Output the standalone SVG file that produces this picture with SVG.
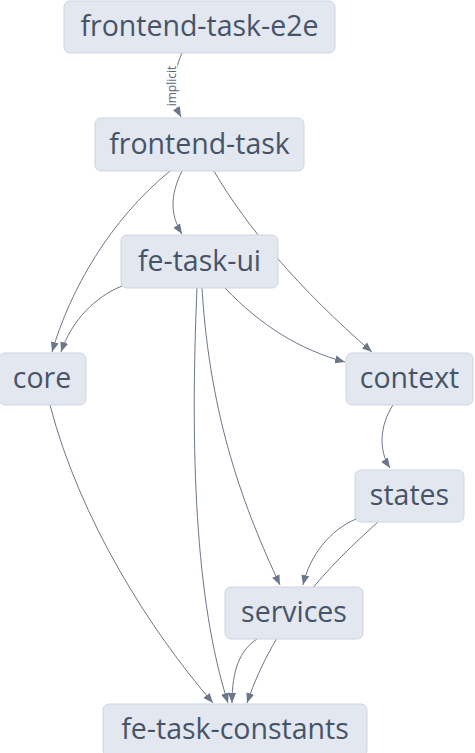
<svg xmlns="http://www.w3.org/2000/svg" width="475" height="753" viewBox="0 0 475 753">
<style>
  .node rect { fill: #e2e7f0; stroke: #cdd4e0; stroke-width: 1; }
  .node text { font-family: "Open Sans", "Noto Sans", "Liberation Sans", sans-serif; font-size: 28.5px; fill: #475467; text-anchor: middle; }
  .edge { fill: none; stroke: #6b7789; stroke-width: 1; marker-end: url(#arrow); }
  .elabel { font-family: "Open Sans", "Liberation Sans", sans-serif; font-size: 12px; fill: #5b6678; text-anchor: middle; }
</style>
<defs>
  <marker id="arrow" markerUnits="userSpaceOnUse" markerWidth="10" markerHeight="10" viewBox="0 0 10 10" refX="10" refY="5" orient="auto">
    <path d="M0,1 L10,5 L0,9 z" fill="#6b7789"/>
  </marker>
</defs>
<rect width="475" height="753" fill="#ffffff"/>
<g id="edges">
  <path class="edge" d="M182,53 C172,75 172,100 181,117"/>
  <path class="edge" d="M170,171 C110,220 70,290 52,352"/>
  <path class="edge" d="M182,171 C170,195 170,215 182,234"/>
  <path class="edge" d="M214,171 C245,225 300,290 372,352"/>
  <path class="edge" d="M122,286 C95,297 72,320 61,352"/>
  <path class="edge" d="M225,288 C260,325 300,350 345,362"/>
  <path class="edge" d="M197,288 C190,450 195,600 228,703"/>
  <path class="edge" d="M202,288 C210,420 245,510 280,585"/>
  <path class="edge" d="M50,405 C80,520 150,630 213,703"/>
  <path class="edge" d="M393,405 C380,425 378,450 390,468"/>
  <path class="edge" d="M356,519 C330,530 310,555 303,585"/>
  <path class="edge" d="M378,522 C330,565 275,620 247,703"/>
  <path class="edge" d="M257,639 C240,650 232,670 232,703"/>
  <text class="elabel" transform="translate(176,86) rotate(-90)" x="0" y="0" stroke="#ffffff" stroke-width="3" paint-order="stroke">implicit</text>
</g>
<g id="frontend-task-e2e" class="node"><rect x="64" y="1" width="271" height="52" rx="6"/><text x="199.5" y="36">frontend-task-e2e</text></g>
<g id="frontend-task" class="node"><rect x="95" y="118" width="209" height="53" rx="6"/><text x="199.5" y="154">frontend-task</text></g>
<g id="fe-task-ui" class="node"><rect x="121" y="235" width="157" height="53" rx="6"/><text x="199.5" y="271">fe-task-ui</text></g>
<g id="core" class="node"><rect x="-1" y="353" width="87" height="52" rx="6"/><text x="42" y="388">core</text></g>
<g id="context" class="node"><rect x="346" y="353" width="127" height="52" rx="6"/><text x="409.5" y="388">context</text></g>
<g id="states" class="node"><rect x="355" y="470" width="109" height="52" rx="6"/><text x="409.5" y="505">states</text></g>
<g id="services" class="node"><rect x="225" y="587" width="138" height="52" rx="6"/><text x="294" y="622">services</text></g>
<g id="fe-task-constants" class="node"><rect x="103" y="704" width="264" height="52" rx="6"/><text x="235" y="739">fe-task-constants</text></g>
</svg>
